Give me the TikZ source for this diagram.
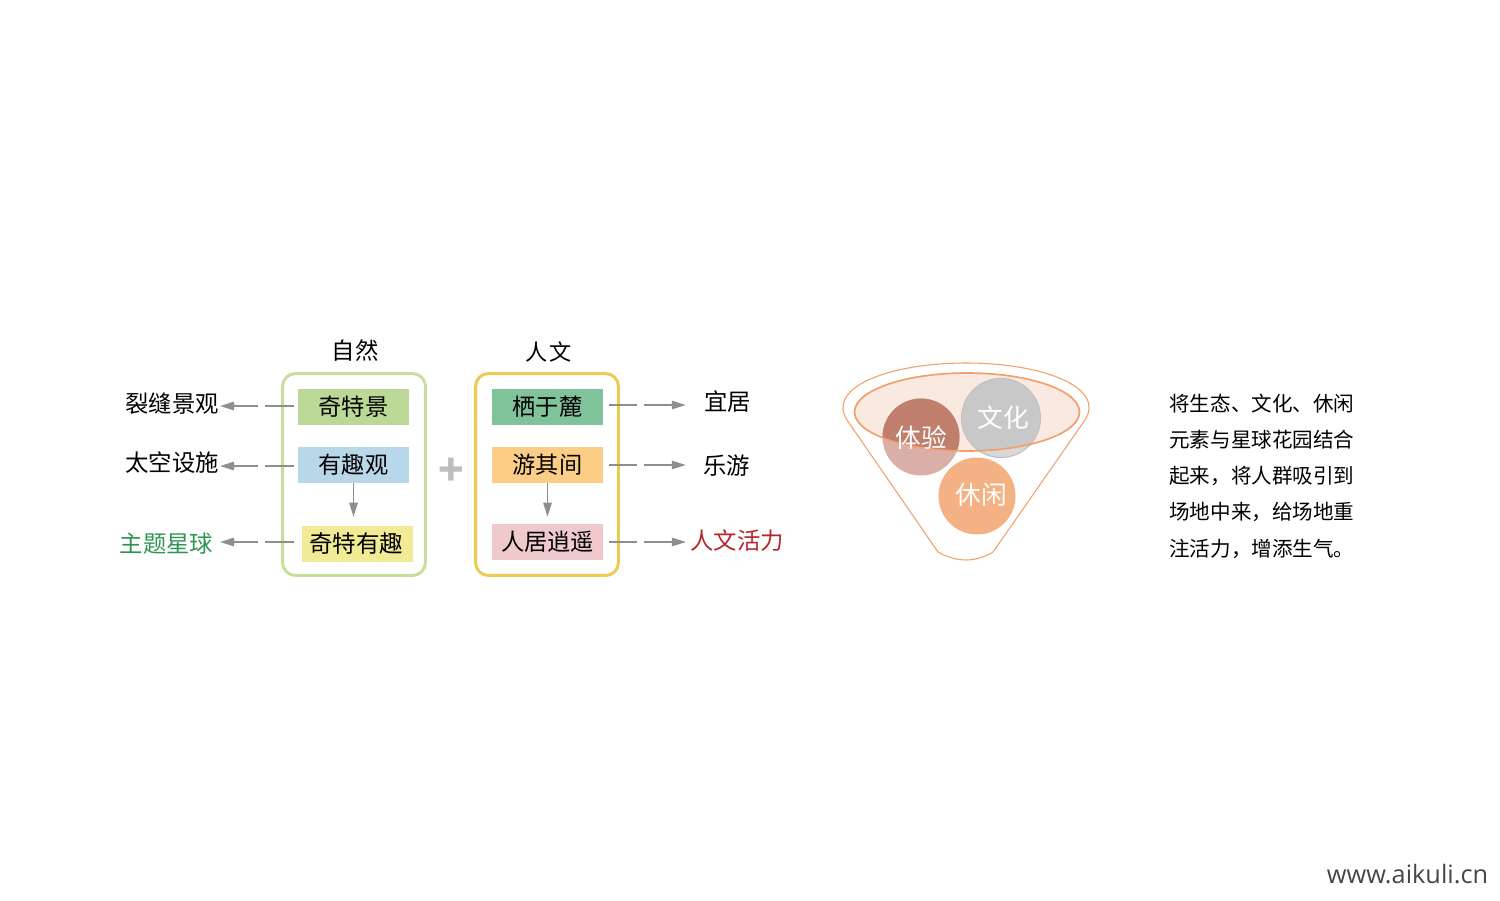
\documentclass[tikz,border=0pt]{standalone}
\usepackage{fontspec}
\usepackage{tikz}
\usetikzlibrary{arrows.meta}
\setmainfont{Noto Sans CJK SC}
\newfontfamily\webfont{Open Sans}

\definecolor{linkgray}{HTML}{8E8E8E}
\definecolor{funnelline}{HTML}{EFA06C}
\definecolor{naturegreen}{HTML}{C8DE9E}
\definecolor{humanyellow}{HTML}{EBCB50}
\definecolor{jinggreen}{HTML}{BCD896}
\definecolor{guanblue}{HTML}{B8D7E8}
\definecolor{qiteyellow}{HTML}{F0EB94}
\definecolor{qigreen}{HTML}{80C29A}
\definecolor{youorange}{HTML}{FBCD86}
\definecolor{jupink}{HTML}{EFC9CB}
\definecolor{themegreen}{HTML}{2E9550}
\definecolor{vitalred}{HTML}{B5252A}
\definecolor{plusgray}{HTML}{BEBEBE}
\definecolor{cupfill}{HTML}{FAE9E0}
\definecolor{tiyandark}{HTML}{C07F6C}
\definecolor{tiyanlight}{HTML}{D9AFA7}
\definecolor{wenhuadark}{HTML}{C8C8C8}
\definecolor{wenhualight}{HTML}{D8D8D8}
\definecolor{wenhualine}{HTML}{BEBEBE}
\definecolor{xiuxianfill}{HTML}{F4B183}
\definecolor{sitegray}{HTML}{464646}

\tikzset{
  frame/.style={shape=rectangle,draw,line width=1.7pt,rounded corners=0.26cm,minimum width=2.86cm,minimum height=4.04cm},
  tag/.style={shape=rectangle,inner sep=0pt,minimum width=2.22cm,minimum height=0.72cm,font=\fontsize{13.2}{16}\selectfont},
  word/.style={inner sep=0pt,font=\fontsize{13.3}{16}\selectfont},
  ball/.style={shape=circle,inner sep=0pt,minimum size=1.54cm,text=white,font=\fontsize{14.6}{17}\selectfont},
  link/.style={draw=linkgray,line width=0.75pt,-{Triangle[length=0.28cm,width=0.17cm]}},
  leftlink/.style={link,dash pattern=on 0.57cm off 0.15cm on 3cm,shorten <=0.08cm,shorten >=0.02cm},
  rightlink/.style={link,dash pattern=on 0.56cm off 0.14cm on 3cm,shorten <=0.12cm}
}

\begin{document}
\begin{tikzpicture}[x=0.02cm,y=-0.02cm]
\useasboundingbox (0,0) rectangle (1500,900);

% left group
\path (354,474.5) node (frameziran) [frame,draw=naturegreen] {};
\path (355,351) node (headziran) [word] {自然};
\path (353.5,407) node (tagjing) [tag,fill=jinggreen] {奇特景};
\path (353.5,465) node (tagqu) [tag,fill=guanblue] {有趣观};
\path (357.5,544) node (tagqite) [tag,fill=qiteyellow,font=\fontsize{13.4}{16}\selectfont] {\hspace{-0.1em}奇特有趣};
\path (172,404) node (liefeng) [word] {裂缝景观};
\path (172,463) node (taikong) [word] {太空设施};
\path (166.5,544) node (xingqiu) [word,text=themegreen] {主题星球};

% right group
\path (547,474.5) node (framerenwen) [frame,draw=humanyellow] {};
\path (548.5,352) node (headrenwen) [word,font=\fontsize{12.6}{16}\selectfont] {人\hspace{0.05em}文};
\path (547.5,407) node (tagqi) [tag,fill=qigreen] {栖于麓};
\path (547.5,465) node (tagyou) [tag,fill=youorange] {游其间};
\path (547.5,542) node (tagju) [tag,fill=jupink] {人居逍遥};
\path (727.5,402) node (yiju) [word] {宜居};
\path (726.5,466) node (leyou) [word] {乐游};
\path (737,541) node (huoli) [word,text=vitalred] {人文活力};

\path (451,472) node (plus) [inner sep=0pt,text=plusgray,font=\fontsize{24}{24}\bfseries\selectfont] {+};

\draw [leftlink] ([yshift=0.02cm]tagjing.west) -- ([yshift=0.02cm]tagjing.west -| liefeng.east);
\draw [leftlink] ([yshift=-0.02cm]tagqu.west) -- ([yshift=-0.02cm]tagqu.west -| taikong.east);
\draw [leftlink,shorten <=0.16cm] ([yshift=0.04cm]tagqite.west) -- ([yshift=0.04cm]tagqite.west -| taikong.east);
\draw [link,shorten >=0.18cm] (tagqu.south) -- (tagqu.south |- tagqite.north);

\draw [rightlink,shorten >=0.36cm] ([yshift=0.04cm]tagqi.east) -- ([yshift=0.04cm]tagqi.east -| yiju.west);
\draw [rightlink,shorten >=0.34cm] (tagyou.east) -- (tagyou.east -| leyou.west);
\draw [rightlink,shorten >=0.08cm] (tagju.east) -- (tagju.east -| huoli.west);
\draw [link,shorten >=0.14cm] (tagyou.south) -- (tagyou.south |- tagju.north);

% funnel
\draw [funnelline,line width=0.6pt,line join=round] (847,420) .. controls (826,387) and (890,363) .. (966,363) .. controls (1042,363) and (1106,387) .. (1085,420) -- (993,552) .. controls (985,557) and (975,560) .. (966,560) .. controls (957,560) and (947,557) .. (938,552) -- cycle;
\fill [cupfill] (967,412) ellipse [x radius=112.5,y radius=39];

\fill [tiyanlight] (921,437) circle [radius=38.5];
\fill [wenhualight] (1001,418) circle [radius=39.5];
\draw [wenhualine,line width=0.6pt] (1001,418) circle [radius=39.5];
\begin{scope}
\clip (967,412) ellipse [x radius=112.5,y radius=39];
\fill [tiyandark] (921,437) circle [radius=38.5];
\fill [wenhuadark] (1001,418) circle [radius=39];
\end{scope}
\fill [xiuxianfill] (977,496) circle [radius=38.5];
\draw [funnelline,line width=0.95pt] (967,412) ellipse [x radius=112.5,y radius=39];

\path (921,438) node (tiyan) [ball] {体验};
\path (1003,418) node (wenhua) [ball] {文化};
\path (981,495) node (xiuxian) [ball] {休闲};

% note
\path (1169,476) node (note) [anchor=west,inner sep=0pt,align=left,font=\fontsize{11.7}{20.6}\selectfont] {将生态、文化、休闲\\元素与星球花园结合\\起来，将人群吸引到\\场地中来，给场地重\\注活力，增添生气。};

\path (1407.5,874) node (site) [inner sep=0pt,text=sitegray,font=\fontsize{14.4}{16}\webfont] {www.aikuli.cn};
\end{tikzpicture}
\end{document}
